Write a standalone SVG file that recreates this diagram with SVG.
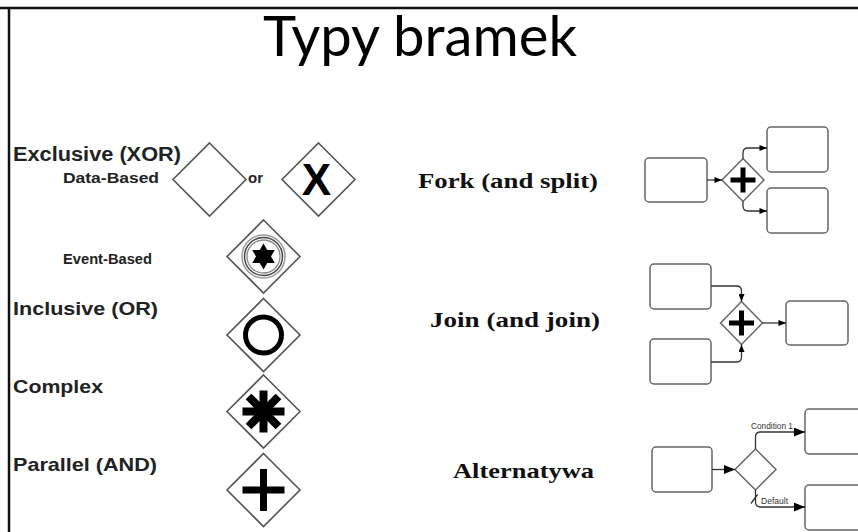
<svg xmlns="http://www.w3.org/2000/svg" width="858" height="532" viewBox="0 0 858 532">
  <style>
    .title { font-family: Lato, "Open Sans", sans-serif; font-size: 56px; fill: #000; }
    .lbl { font-family: "Liberation Sans", Arial, sans-serif; font-weight: bold; fill: #222; }
    .mid { font-family: "Liberation Serif", "Times New Roman", serif; font-weight: bold; font-size: 22px; fill: #111; }
    .tiny { font-family: "Liberation Sans", Arial, sans-serif; font-size: 8.5px; fill: #333; }
    .gw { fill: #fff; stroke: #555; stroke-width: 1.6; }
    .gws { fill: #fff; stroke: #666; stroke-width: 1.5; }
    .task { fill: #fff; stroke: #666; stroke-width: 1.5; }
    .conn { fill: none; stroke: #333; stroke-width: 1.3; }
    .mark { stroke: #000; fill: none; stroke-linecap: butt; }
  </style>
  <defs>
    <marker id="arrow" viewBox="0 0 10 8" refX="10" refY="4" markerWidth="8" markerHeight="6" markerUnits="userSpaceOnUse" orient="auto">
      <path d="M0,0 L10,4 L0,8 z" fill="#000"/>
    </marker>
    <marker id="arrowBig" viewBox="0 0 10 8" refX="10" refY="4" markerWidth="11" markerHeight="9" markerUnits="userSpaceOnUse" orient="auto">
      <path d="M0,0 L10,4 L0,8 z" fill="#000"/>
    </marker>
    <polygon id="diamond" points="0,-36.5 36.5,0 0,36.5 -36.5,0"/>
  </defs>

  <rect x="0" y="0" width="858" height="532" fill="#fff"/>

  <!-- frame -->
  <g id="frame" stroke="#111" stroke-width="2.5">
    <line x1="0" y1="8" x2="858" y2="8"/>
    <line x1="9" y1="8" x2="9" y2="532"/>
  </g>

  <text id="title" class="title" x="263" y="56" textLength="314" lengthAdjust="spacingAndGlyphs">Typy bramek</text>

  <!-- gateway type labels -->
  <g id="labels">
    <text class="lbl" x="13" y="161" font-size="20" textLength="168" lengthAdjust="spacingAndGlyphs">Exclusive (XOR)</text>
    <text class="lbl" x="63" y="183" font-size="15.5" textLength="96" lengthAdjust="spacingAndGlyphs">Data-Based</text>
    <text class="lbl" x="248" y="183" font-size="15.5" textLength="15" lengthAdjust="spacingAndGlyphs">or</text>
    <text class="lbl" x="63" y="264" font-size="15.5" textLength="89" lengthAdjust="spacingAndGlyphs">Event-Based</text>
    <text class="lbl" x="13" y="315" font-size="19" textLength="145" lengthAdjust="spacingAndGlyphs">Inclusive (OR)</text>
    <text class="lbl" x="13" y="393" font-size="19" textLength="90" lengthAdjust="spacingAndGlyphs">Complex</text>
    <text class="lbl" x="13" y="471" font-size="19" textLength="144" lengthAdjust="spacingAndGlyphs">Parallel (AND)</text>
  </g>

  <!-- exclusive, data-based (blank) -->
  <g id="gw-xor-blank" transform="translate(209.5,179.5)">
    <use href="#diamond" class="gw"/>
  </g>
  <!-- exclusive, data-based (X marker) -->
  <g id="gw-xor-x" transform="translate(318.5,179.5)">
    <use href="#diamond" class="gw"/>
    <text x="-2" y="15.5" text-anchor="middle" font-family="Liberation Sans, Arial, sans-serif" font-weight="bold" font-size="44" fill="#000">X</text>
  </g>
  <!-- event-based -->
  <g id="gw-event" transform="translate(263.5,256.5)">
    <use href="#diamond" class="gw"/>
    <circle r="21.5" fill="none" stroke="#999" stroke-width="1.5"/>
    <circle r="19" fill="none" stroke="#444" stroke-width="1.5"/>
    <circle r="16.5" fill="none" stroke="#888" stroke-width="1.3"/>
    <polygon fill="#000" points="0,-13 3.75,-6.5 11.26,-6.5 7.51,0 11.26,6.5 3.75,6.5 0,13 -3.75,6.5 -11.26,6.5 -7.51,0 -11.26,-6.5 -3.75,-6.5"/>
  </g>
  <!-- inclusive -->
  <g id="gw-or" transform="translate(263.5,335)">
    <use href="#diamond" class="gw"/>
    <circle r="18" fill="none" stroke="#000" stroke-width="5"/>
  </g>
  <!-- complex -->
  <g id="gw-complex" transform="translate(263.5,411.5)">
    <use href="#diamond" class="gw"/>
    <g class="mark" stroke-width="8">
      <line x1="0" y1="-21" x2="0" y2="21"/>
      <line x1="-21" y1="0" x2="21" y2="0"/>
      <line x1="-15" y1="-15" x2="15" y2="15"/>
      <line x1="-15" y1="15" x2="15" y2="-15"/>
    </g>
  </g>
  <!-- parallel -->
  <g id="gw-and" transform="translate(263.5,490)">
    <use href="#diamond" class="gw"/>
    <g class="mark" stroke-width="7">
      <line x1="0" y1="-21" x2="0" y2="21"/>
      <line x1="-21" y1="0" x2="21" y2="0"/>
    </g>
  </g>

  <!-- pattern titles -->
  <g id="pattern-labels">
    <text class="mid" x="418" y="188" textLength="180" lengthAdjust="spacingAndGlyphs">Fork (and split)</text>
    <text class="mid" x="430" y="327" textLength="170" lengthAdjust="spacingAndGlyphs">Join (and join)</text>
    <text class="mid" x="453" y="478" textLength="141" lengthAdjust="spacingAndGlyphs">Alternatywa</text>
  </g>

  <!-- fork -->
  <g id="fork-src"><rect class="task" x="645" y="158" width="62" height="44" rx="4"/></g>
  <g id="fork-gw" transform="translate(743,180)">
    <polygon class="gws" points="0,-21.5 21,0 0,21.5 -21,0"/>
    <g class="mark" stroke-width="5">
      <line x1="0" y1="-12.5" x2="0" y2="12.5"/>
      <line x1="-12.5" y1="0" x2="12.5" y2="0"/>
    </g>
  </g>
  <g id="fork-out1"><rect class="task" x="767" y="127" width="61" height="45" rx="4"/></g>
  <g id="fork-out2"><rect class="task" x="767" y="188" width="61" height="45" rx="4"/></g>

  <!-- join -->
  <g id="join-in1"><rect class="task" x="650" y="264" width="61" height="45" rx="4"/></g>
  <g id="join-in2"><rect class="task" x="650" y="339" width="61" height="45" rx="4"/></g>
  <g id="join-gw" transform="translate(741.5,323)">
    <polygon class="gws" points="0,-21.5 21,0 0,21.5 -21,0"/>
    <g class="mark" stroke-width="5">
      <line x1="0" y1="-12.5" x2="0" y2="12.5"/>
      <line x1="-12.5" y1="0" x2="12.5" y2="0"/>
    </g>
  </g>
  <g id="join-out"><rect class="task" x="786" y="301" width="62" height="44" rx="4"/></g>

  <!-- alternative (exclusive choice) -->
  <g id="alt-src"><rect class="task" x="652" y="447" width="60" height="45" rx="4"/></g>
  <g id="alt-gw" transform="translate(755.5,469.5)">
    <polygon class="gws" points="0,-20.5 20.5,0 0,20.5 -20.5,0"/>
  </g>
  <g id="alt-out1"><rect class="task" x="805" y="409" width="60" height="45" rx="4"/></g>
  <g id="alt-out2"><rect class="task" x="805" y="485" width="60" height="45" rx="4"/></g>

  <!-- sequence flows -->
  <g id="connectors">
    <path class="conn" d="M707,180 H722" marker-end="url(#arrow)"/>
    <path class="conn" d="M743,158.5 V153 Q743,148 748,148 H767" marker-end="url(#arrow)"/>
    <path class="conn" d="M743,201.5 V206 Q743,211 748,211 H767" marker-end="url(#arrow)"/>

    <path class="conn" d="M711,286 H736.5 Q741.5,286 741.5,291 V301.5" marker-end="url(#arrow)"/>
    <path class="conn" d="M711,362 H736.5 Q741.5,362 741.5,357 V344.5" marker-end="url(#arrow)"/>
    <path class="conn" d="M762.5,323 H786" marker-end="url(#arrow)"/>

    <path class="conn" d="M712,469.5 H735" marker-end="url(#arrowBig)"/>
    <path class="conn" d="M755.5,449 V437 Q755.5,432 760.5,432 H805" marker-end="url(#arrowBig)"/>
    <path class="conn" d="M755.5,490 V502 Q755.5,507 760.5,507 H805" marker-end="url(#arrowBig)"/>
    <line class="conn" x1="751" y1="503.5" x2="757.5" y2="494.5"/>
    <text class="tiny" x="751" y="429" textLength="42" lengthAdjust="spacingAndGlyphs">Condition 1</text>
    <text class="tiny" x="761" y="504" textLength="27" lengthAdjust="spacingAndGlyphs">Default</text>
  </g>
</svg>
